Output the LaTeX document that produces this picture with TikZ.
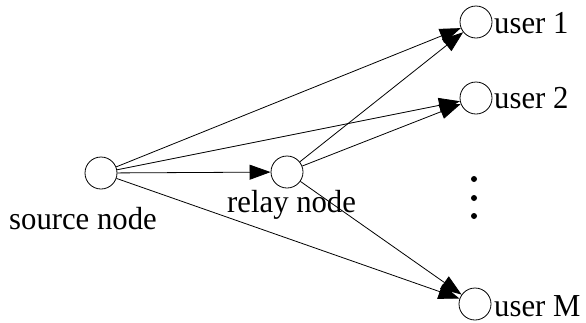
\documentclass[tikz,border=0pt]{standalone}
\usepackage{fontspec}
\setmainfont[FakeStretch=0.96]{Liberation Serif}
\usetikzlibrary{arrows.meta}
\tikzset{
  nd/.style={draw, circle, minimum size=32pt, inner sep=0pt, line width=0.8pt},
  lbl/.style={anchor=base west, inner sep=0pt, font=\fontsize{32}{36}\selectfont},
  conn/.style={line width=0.8pt, -{Triangle[length=21pt,width=15pt]}, shorten >=0pt},
  dotm/.style={fill=black, circle, inner sep=0pt, minimum size=6pt}
}
\begin{document}
\begin{tikzpicture}[x=1pt,y=-1pt]
\useasboundingbox (0,0) rectangle (586,322);
\node[nd] (src) at (101,173) {};
\node[nd] (rel) at (287,172) {};
\node[nd] (u1) at (476,22) {};
\node[nd] (u2) at (476,98) {};
\node[nd] (uM) at (475,304) {};
\node[lbl] (srcl) at (9,229) {source node};
\node[lbl] (rell) at (227,212) {relay node};
\node[lbl] (u1l) at (494,33) {user 1};
\node[lbl] (u2l) at (494,108) {user 2};
\node[lbl] (uMl) at (494,316) {user M};
\node[dotm] (d1) at (474,179) {};
\node[dotm] (d2) at (474,198) {};
\node[dotm] (d3) at (474,216) {};
\draw[conn] (src) -- (rel);
\draw[conn] (src) -- (u1);
\draw[conn] (src) -- (u2);
\draw[conn] (src) -- (uM);
\draw[conn] (rel) -- (u1);
\draw[conn] (rel) -- (u2);
\draw[conn] (rel) -- (uM);
\end{tikzpicture}
\end{document}
